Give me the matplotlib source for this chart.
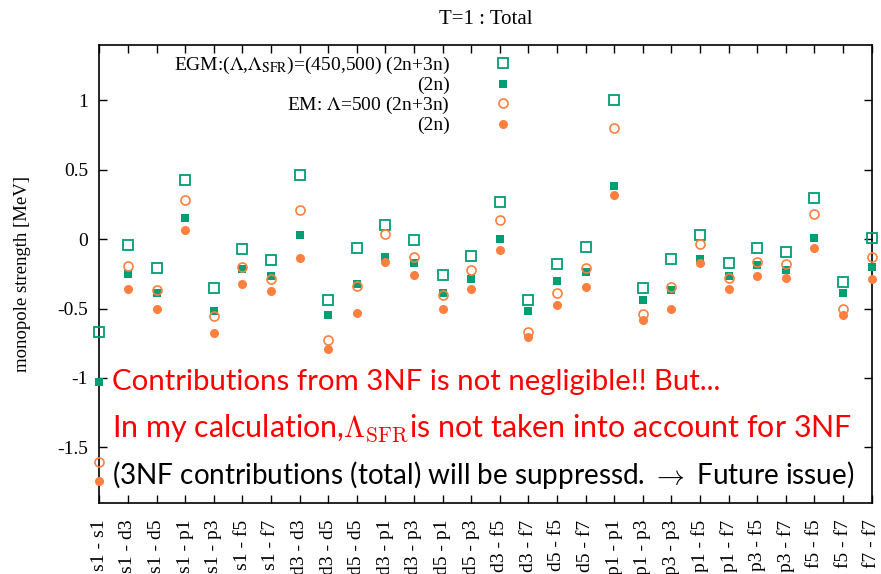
import matplotlib
matplotlib.use("Agg")
import matplotlib.pyplot as plt
import numpy as np

OUT_PATH = "out.png"

# orbit pairs on the x axis
pairs = [
    "s1 - s1", "s1 - d3", "s1 - d5", "s1 - p1", "s1 - p3", "s1 - f5", "s1 - f7",
    "d3 - d3", "d3 - d5", "d5 - d5", "d3 - p1", "d3 - p3", "d5 - p1", "d5 - p3",
    "d3 - f5", "d3 - f7", "d5 - f5", "d5 - f7", "p1 - p1", "p1 - p3", "p3 - p3",
    "p1 - f5", "p1 - f7", "p3 - f5", "p3 - f7", "f5 - f5", "f5 - f7", "f7 - f7",
]

# monopole strengths [MeV]
egm_2n3n = [
    -0.667, -0.04, -0.21, 0.43, -0.35, -0.07, -0.15,
    0.465, -0.435, -0.06, 0.10, -0.005, -0.26, -0.12,
    0.265, -0.44, -0.18, -0.055, 1.0, -0.35, -0.145,
    0.03, -0.17, -0.06, -0.095, 0.30, -0.31, 0.01,
]
egm_2n = [
    -1.027, -0.25, -0.39, 0.155, -0.52, -0.215, -0.265,
    0.027, -0.545, -0.32, -0.125, -0.17, -0.39, -0.29,
    -0.002, -0.515, -0.30, -0.235, 0.387, -0.442, -0.37,
    -0.14, -0.267, -0.187, -0.221, 0.005, -0.385, -0.197,
]
em_2n3n = [
    -1.605, -0.19, -0.365, 0.28, -0.557, -0.202, -0.288,
    0.21, -0.724, -0.334, 0.037, -0.125, -0.40, -0.221,
    0.14, -0.666, -0.39, -0.209, 0.80, -0.538, -0.348,
    -0.033, -0.283, -0.161, -0.178, 0.181, -0.502, -0.132,
]
em_2n = [
    -1.74, -0.36, -0.505, 0.065, -0.675, -0.32, -0.377,
    -0.137, -0.79, -0.53, -0.161, -0.255, -0.505, -0.356,
    -0.077, -0.702, -0.473, -0.344, 0.315, -0.582, -0.505,
    -0.173, -0.36, -0.262, -0.281, -0.06, -0.546, -0.286,
]

y_ticks = [-1.5, -1, -0.5, 0, 0.5, 1]
y_tick_labels = ["-1.5", "-1", "-0.5", "0", "0.5", "1"]

GREEN = "#009e73"
ORANGE = "#ff7f3f"

SERIF = ["Liberation Serif", "DejaVu Serif"]
SANS = ["Lato", "DejaVu Sans"]


def main():
    plt.rcParams["font.family"] = SERIF
    plt.rcParams["mathtext.fontset"] = "stix"

    fig = plt.figure(figsize=(8.81, 5.74), dpi=100)
    ax = fig.add_axes([0.1127, 0.1242, 0.8767, 0.7974])

    x = np.arange(len(pairs))
    ax.plot(x, egm_2n3n, ls="none", marker="s", ms=7, mfc="none", mec=GREEN, mew=1.3,
            label=r"EGM:($\Lambda$,$\Lambda_{\rm SFR}$)=(450,500) (2n+3n)", clip_on=False, zorder=3)
    ax.plot(x, egm_2n, ls="none", marker="s", ms=6.2, color=GREEN, mew=0,
            label="(2n)", clip_on=False, zorder=3)
    ax.plot(x, em_2n3n, ls="none", marker="o", ms=6.5, mfc="none", mec=ORANGE, mew=1.2,
            label=r"EM: $\Lambda$=500 (2n+3n)", clip_on=False, zorder=3)
    ax.plot(x, em_2n, ls="none", marker="o", ms=6.5, color=ORANGE, mew=0,
            label="(2n)", clip_on=False, zorder=3)

    ax.set_xlim(0, len(pairs) - 1)
    ax.set_ylim(-1.9, 1.4)
    ax.set_xticks(x)
    ax.set_xticklabels(pairs, rotation=90, fontsize=14, va="top", ha="center")
    ax.set_yticks(y_ticks)
    ax.set_yticklabels(y_tick_labels, fontsize=14)
    ax.tick_params(direction="in", length=6, width=1, top=True, right=True, pad=8)
    ax.tick_params(axis="x", pad=12)
    for spine in ax.spines.values():
        spine.set_linewidth(1.2)

    ax.set_ylabel("monopole strength [MeV]", fontsize=13.5, labelpad=19)
    ax.set_title("T=1 : Total", fontsize=15, pad=15)

    leg = ax.legend(loc="upper right", bbox_to_anchor=(0.58, 0.978), frameon=False,
                    markerfirst=False, fontsize=14, handlelength=4.6, handletextpad=0.4,
                    labelspacing=0.03, borderaxespad=0, borderpad=0)
    for text in leg.get_texts():
        text.set_ha("right")
    leg._legend_box.align = "right"

    ax.text(0.016, 0.264, "Contributions from 3NF is not negligible!! But...",
            transform=ax.transAxes, color="red", fontsize=21.2, family=SANS,
            va="center", ha="left")
    ax.text(0.016, 0.163, r"In my calculation,$\Lambda_{\rm SFR}$is not taken into account for 3NF",
            transform=ax.transAxes, color="red", fontsize=21.9, family=SANS,
            math_fontfamily="cm", va="center", ha="left")
    ax.text(0.016, 0.061, r"(3NF contributions (total) will be suppressd. $\rightarrow$ Future issue)",
            transform=ax.transAxes, color="black", fontsize=20.1, family=SANS,
            math_fontfamily="cm", va="center", ha="left")

    fig.savefig(OUT_PATH, dpi=100)
    plt.close(fig)


if __name__ == "__main__":
    main()
